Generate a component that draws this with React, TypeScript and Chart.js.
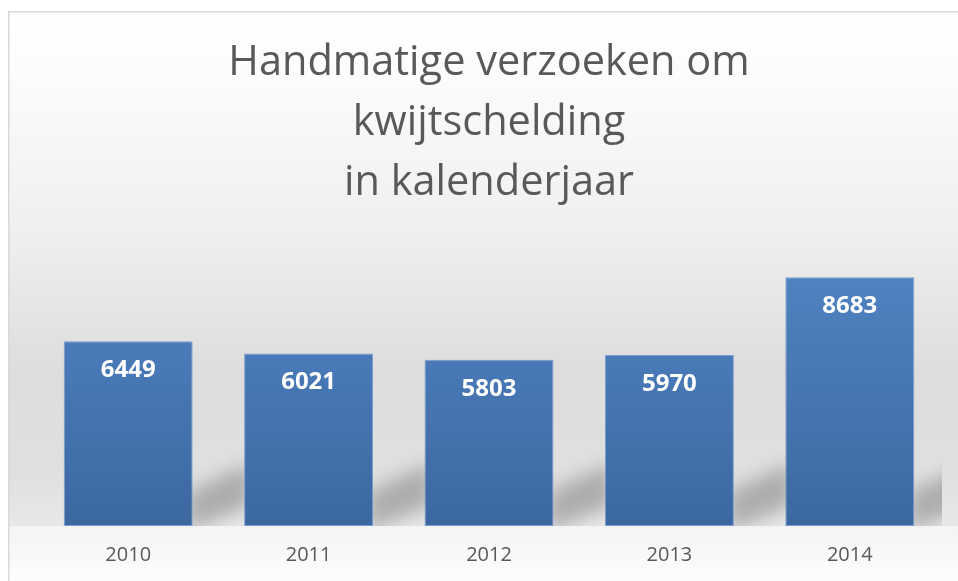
import React, { useEffect, useRef } from "react";
import { Chart, registerables } from "chart.js";

Chart.register(...registerables);

const categories = ["2010", "2011", "2012", "2013", "2014"];
const values = [6449, 6021, 5803, 5970, 8683];
const titleLines = ["Handmatige verzoeken om", "kwijtschelding", "in kalenderjaar"];

const FONT = "'Open Sans', 'Noto Sans', sans-serif";

const backgroundPlugin = {
  id: "bgPlugin",
  beforeDraw(chart: any) {
    const { ctx, width, height } = chart;
    ctx.save();
    ctx.fillStyle = "#ffffff";
    ctx.fillRect(0, 0, width, height);
    const base = chart.scales.y.getPixelForValue(0);
    const g = ctx.createLinearGradient(0, 11, 0, base);
    g.addColorStop(0, "#ffffff");
    g.addColorStop(0.12, "#fcfcfc");
    g.addColorStop(0.45, "#eeeeee");
    g.addColorStop(0.7, "#dddddd");
    g.addColorStop(0.9, "#e0e0e0");
    g.addColorStop(1, "#e8e8e8");
    ctx.fillStyle = g;
    ctx.fillRect(9, 11, width - 9, base - 11);
    const g2 = ctx.createLinearGradient(0, base, 0, height);
    g2.addColorStop(0, "#f4f4f4");
    g2.addColorStop(1, "#fdfdfd");
    ctx.fillStyle = g2;
    ctx.fillRect(9, base, width - 9, height - base);
    ctx.strokeStyle = "#d9d9d9";
    ctx.lineWidth = 1.5;
    ctx.beginPath();
    ctx.moveTo(8.75, height);
    ctx.lineTo(8.75, 11.75);
    ctx.lineTo(width, 11.75);
    ctx.stroke();
    ctx.restore();
  },
};

const shadowPlugin = {
  id: "shadowPlugin",
  beforeDatasetsDraw(chart: any) {
    const { ctx, chartArea } = chart;
    const meta = chart.getDatasetMeta(0);
    const base = chart.scales.y.getPixelForValue(0);
    ctx.save();
    ctx.beginPath();
    ctx.rect(chartArea.left, chartArea.top, chartArea.right + 2 - chartArea.left, base - chartArea.top);
    ctx.clip();
    ctx.filter = "blur(9px)";
    ctx.fillStyle = "rgba(0,0,0,0.24)";
    meta.data.forEach((bar: any) => {
      const r = bar.x + bar.width / 2;
      ctx.beginPath();
      ctx.moveTo(r - 6, base + 6);
      ctx.lineTo(r - 6, base - 34);
      ctx.lineTo(r + 58, base - 62);
      ctx.lineTo(r + 58, base - 20);
      ctx.closePath();
      ctx.fill();
    });
    ctx.restore();
  },
};

const labelPlugin = {
  id: "labelPlugin",
  afterDatasetsDraw(chart: any) {
    const { ctx } = chart;
    const meta = chart.getDatasetMeta(0);
    ctx.save();
    ctx.fillStyle = "#ffffff";
    ctx.font = `bold 24px ${FONT}`;
    ctx.textAlign = "center";
    ctx.textBaseline = "middle";
    meta.data.forEach((bar: any, i: number) => {
      ctx.fillText(String(values[i]), bar.x, bar.y + 29);
    });
    ctx.restore();
  },
};

export default function App() {
  const ref = useRef<HTMLCanvasElement>(null);
  useEffect(() => {
    document.body.style.margin = "0";
    const canvas = ref.current!;
    const chart = new Chart(canvas, {
      type: "bar",
      data: {
        labels: categories,
        datasets: [
          {
            data: values,
            backgroundColor: (c: any) => {
              const ca = c.chart.chartArea;
              if (!ca) return "#4a7ab6";
              const g = c.chart.ctx.createLinearGradient(0, ca.top, 0, ca.bottom);
              g.addColorStop(0, "#5286c6");
              g.addColorStop(1, "#3c68a1");
              return g;
            },
            borderColor: "rgba(110,150,205,0.9)",
            borderWidth: 1,
            borderSkipped: false,
            categoryPercentage: 1,
            barPercentage: 0.715,
          },
        ],
      },
      options: {
        animation: false,
        responsive: false,
        devicePixelRatio: 1,
        layout: { padding: { left: 38, right: 18, top: 0, bottom: 14 } },
        plugins: {
          legend: { display: false },
          tooltip: { enabled: false },
          title: {
            display: true,
            text: titleLines,
            color: "#595959",
            font: { family: FONT, size: 41.5, weight: "normal", lineHeight: 1.45 },
            padding: { top: 33, bottom: 26 },
          },
        },
        scales: {
          x: {
            grid: { display: false, drawTicks: false },
            border: { display: false },
            ticks: {
              color: "#595959",
              font: { family: FONT, size: 20, lineHeight: 1.2 },
              padding: 17,
            },
            afterFit: (scale: any) => {
              scale.height = 41;
            },
          },
          y: {
            display: false,
            min: 0,
            max: 10000,
          },
        },
      },
      plugins: [backgroundPlugin, shadowPlugin, labelPlugin],
    });
    return () => chart.destroy();
  }, []);
  return (
    <div style={{ width: 958, height: 581 }}>
      <canvas ref={ref} width={958} height={581} style={{ display: "block" }} />
    </div>
  );
}
